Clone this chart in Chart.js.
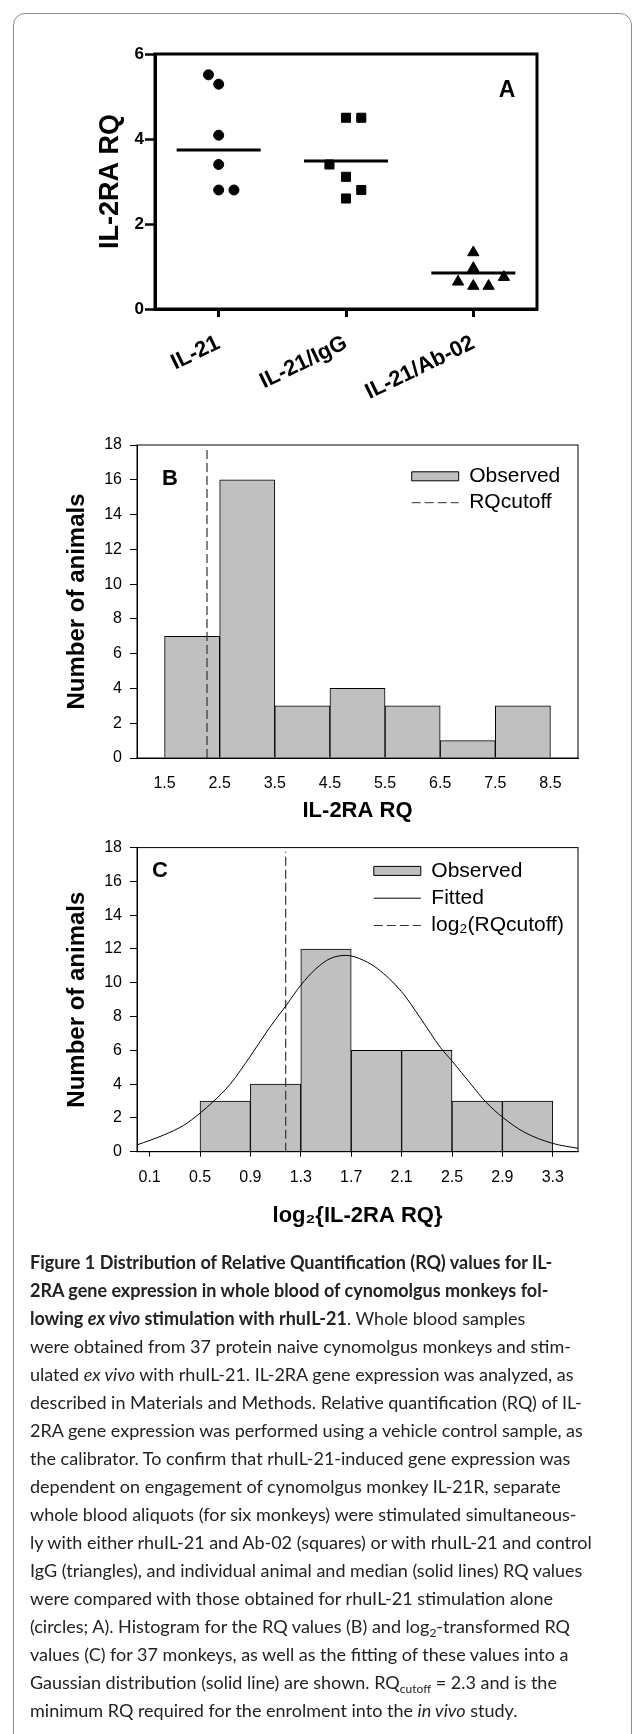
<!DOCTYPE html>
<html>
<head>
<meta charset="utf-8">
<script src="https://cdn.jsdelivr.net/npm/chart.js@4.4.1/dist/chart.umd.min.js"></script>
<style>
html,body{margin:0;padding:0;background:#fff;}
body{width:635px;height:1734px;position:relative;overflow:hidden;font-family:'Liberation Sans',Arial,sans-serif;}
#frame{position:absolute;left:13px;top:13px;width:619px;height:1800px;border:1px solid #8c8c8c;border-radius:12px;box-sizing:border-box;}
canvas{position:absolute;left:0;}
.plabel{position:absolute;font-weight:bold;font-size:22px;font-family:'Liberation Sans',Arial,sans-serif;transform:translate(-50%,-50%);line-height:1;color:#000;}
#caption{position:absolute;left:30px;top:1248px;font-family:Lato,'Open Sans',sans-serif;font-size:18px;color:#222;}
#caption div{height:28px;line-height:28px;white-space:nowrap;}
#caption sub{font-size:12px;vertical-align:-4px;line-height:0;}
</style>
</head>
<body>
<div id="frame"></div>
<canvas id="cA" width="635" height="420" style="top:0;width:635px;height:420px"></canvas>
<canvas id="cB" width="635" height="410" style="top:420px;width:635px;height:410px"></canvas>
<canvas id="cC" width="635" height="420" style="top:830px;width:635px;height:420px"></canvas>
<div class="plabel" style="left:507px;top:89px;font-size:23px">A</div>
<div class="plabel" style="left:170px;top:478px">B</div>
<div class="plabel" style="left:160px;top:870px">C</div>
<div id="caption">
<div><b>Figure 1 Distribution of Relative Quantification (RQ) values for IL-</b></div>
<div><b>2RA gene expression in whole blood of cynomolgus monkeys fol-</b></div>
<div><b>lowing <i>ex vivo</i> stimulation with rhuIL-21</b>. Whole blood samples</div>
<div>were obtained from 37 protein naive cynomolgus monkeys and stim-</div>
<div>ulated <i>ex vivo</i> with rhuIL-21. IL-2RA gene expression was analyzed, as</div>
<div>described in Materials and Methods. Relative quantification (RQ) of IL-</div>
<div>2RA gene expression was performed using a vehicle control sample, as</div>
<div>the calibrator. To confirm that rhuIL-21-induced gene expression was</div>
<div>dependent on engagement of cynomolgus monkey IL-21R, separate</div>
<div>whole blood aliquots (for six monkeys) were stimulated simultaneous-</div>
<div>ly with either rhuIL-21 and Ab-02 (squares) or with rhuIL-21 and control</div>
<div>IgG (triangles), and individual animal and median (solid lines) RQ values</div>
<div>were compared with those obtained for rhuIL-21 stimulation alone</div>
<div>(circles; A). Histogram for the RQ values (B) and log<sub>2</sub>-transformed RQ</div>
<div>values (C) for 37 monkeys, as well as the fitting of these values into a</div>
<div>Gaussian distribution (solid line) are shown. RQ<sub>cutoff</sub> = 2.3 and is the</div>
<div>minimum RQ required for the enrolment into the <i>in vivo</i> study.</div>
</div>
<script>
// ---------- Panel A data ----------
const catsA = ['IL-21', 'IL-21/IgG', 'IL-21/Ab-02'];
const il21X = [0.92, 1.0, 1.0, 1.0, 1.0, 1.12];
const il21Y = [5.51, 5.29, 4.09, 3.40, 2.80, 2.80];
const iggX = [2.0, 2.12, 1.87, 2.0, 2.12, 2.0];
const iggY = [4.50, 4.50, 3.40, 3.11, 2.80, 2.60];
const ab02X = [3.0, 3.0, 2.88, 3.0, 3.12, 3.24];
const ab02Y = [1.33, 0.96, 0.64, 0.54, 0.54, 0.75];
const mediansA = [3.74, 3.48, 0.85];
const yTicksA = [0, 2, 4, 6];

// ---------- Panel B data ----------
const binCentersB = [2, 3, 4, 5, 6, 7, 8];
const countsB = [7, 16, 3, 4, 3, 1, 3];
const xTicksB = [1.5, 2.5, 3.5, 4.5, 5.5, 6.5, 7.5, 8.5];
const cutoffB = 2.27;

// ---------- Panel C data ----------
const binCentersC = [0.7, 1.1, 1.5, 1.9, 2.3, 2.7, 3.1];
const countsC = [3, 4, 12, 6, 6, 3, 3];
const xTicksC = [0.1, 0.5, 0.9, 1.3, 1.7, 2.1, 2.5, 2.9, 3.3];
const cutoffC = 1.18;
const fitX = [0, 0.21, 0.37, 0.5, 0.6, 0.74, 0.9, 1.05, 1.19, 1.3, 1.42, 1.53, 1.66, 1.8, 1.91, 2.1, 2.25, 2.41, 2.5, 2.65, 2.77, 2.9, 3.07, 3.3, 3.5];
const fitY = [0.4, 0.98, 1.56, 2.28, 2.93, 4.0, 5.66, 7.32, 8.72, 9.86, 10.83, 11.42, 11.62, 11.32, 10.83, 9.47, 7.9, 6.15, 5.37, 4.0, 2.93, 2.05, 1.17, 0.49, 0.2];

const yTicksHist = [0, 2, 4, 6, 8, 10, 12, 14, 16, 18];
const cutoffTop = 17.75;

Chart.defaults.font.family = "'Liberation Sans', Arial, sans-serif";
Chart.defaults.color = '#000';

const zip = (xs, ys) => xs.map((x, i) => ({x: x, y: ys[i]}));

const framePlugin = {
  id: 'frame',
  afterDatasetsDraw(chart, args, opts) {
    const {ctx, chartArea: {left, top, right, bottom}} = chart;
    ctx.save();
    ctx.strokeStyle = opts.color || '#000';
    ctx.lineWidth = opts.width || 1;
    ctx.strokeRect(left, top, right - left, bottom - top);
    ctx.restore();
  }
};

const legendPosPlugin = {
  id: 'legendPos',
  afterLayout(chart, args, opts) {
    const lg = chart.legend;
    if (!lg || opts.x === undefined) return;
    const w = 280, h = 130;
    lg.left = opts.x; lg.top = opts.y;
    lg.width = w; lg.height = h;
    lg.right = opts.x + w; lg.bottom = opts.y + h;
  }
};

// ---------- Chart A ----------
const medianSets = mediansA.map((m, i) => ({
  type: 'line',
  data: [{x: i + 1 - 0.33, y: m}, {x: i + 1 + 0.33, y: m}],
  borderColor: '#000', borderWidth: 3, pointRadius: 0, fill: false
}));

new Chart(document.getElementById('cA'), {
  type: 'scatter',
  data: {
    datasets: [
      {data: zip(il21X, il21Y), pointStyle: 'circle', pointRadius: 5, backgroundColor: '#000', borderColor: '#000'},
      {data: zip(iggX, iggY), pointStyle: 'rect', pointRadius: 6.4, backgroundColor: '#000', borderColor: '#000'},
      {data: zip(ab02X, ab02Y), pointStyle: 'triangle', pointRadius: 6.5, backgroundColor: '#000', borderColor: '#000'},
      ...medianSets
    ]
  },
  options: {
    responsive: false, animation: false,
    layout: {padding: {top: 54, right: 98, left: 0, bottom: 0}},
    plugins: {legend: {display: false}, tooltip: {enabled: false}, frame: {width: 3, color: '#000'}},
    scales: {
      x: {
        type: 'linear', min: 0.5, max: 3.5,
        afterBuildTicks: s => { s.ticks = [1, 2, 3].map(v => ({value: v})); },
        afterFit: s => { s.height = 111; },
        ticks: {callback: v => catsA[v - 1], minRotation: 26, maxRotation: 26, autoSkip: false,
                font: {size: 22, weight: 'bold'}, color: '#000', padding: 13},
        grid: {display: true, drawOnChartArea: false, tickLength: 8, tickWidth: 3, tickColor: '#000'},
        border: {display: true, width: 3, color: '#000'}
      },
      y: {
        min: 0, max: 6,
        afterBuildTicks: s => { s.ticks = yTicksA.map(v => ({value: v})); },
        afterFit: s => { s.width = 155; },
        ticks: {font: {size: 17, weight: 'bold'}, color: '#000', padding: 1},
        grid: {display: true, drawOnChartArea: false, tickLength: 10, tickWidth: 2.5, tickColor: '#000'},
        border: {display: true, width: 3, color: '#000'},
        title: {display: true, text: 'IL-2RA RQ', font: {size: 27, weight: 'bold'}, color: '#000', padding: {top: 94.6, bottom: 0}}
      }
    }
  },
  plugins: [framePlugin]
});

// ---------- Histogram helpers ----------
function legendLabels(order) {
  return {
    usePointStyle: true, pointStyleWidth: 47, boxHeight: 9, font: {size: 21}, color: '#000',
    generateLabels: chart => {
      const items = Chart.defaults.plugins.legend.labels.generateLabels(chart);
      items.forEach(it => {
        const ds = chart.data.datasets[it.datasetIndex];
        it.pointStyle = ds.type === 'bar' ? 'rect' : 'line';
        it.lineDash = ds.borderDash || [];
        it.strokeStyle = ds.borderColor;
        it.fillStyle = ds.backgroundColor || 'rgba(0,0,0,0)';
        it.lineWidth = 1;
      });
      return items;
    },
    sort: (a, b) => order.indexOf(a.text) - order.indexOf(b.text)
  };
}

function histScales(xMin, xMax, xTicks, xDigits, xTitle, xTitlePad, xTickLen, xTickPad, xHeight) {
  return {
    x: {
      type: 'linear', min: xMin, max: xMax, offset: false,
      afterBuildTicks: s => { s.ticks = xTicks.map(v => ({value: v})); },
      afterFit: s => { s.height = xHeight; },
      ticks: {callback: v => Number(v).toFixed(xDigits), font: {size: 16}, color: '#000', padding: xTickPad, autoSkip: false, maxRotation: 0},
      grid: {display: true, offset: false, drawOnChartArea: false, drawTicks: xTickLen > 0, tickLength: xTickLen, tickColor: '#000', tickWidth: 1},
      border: {display: true, width: 1, color: '#000'},
      title: {display: true, text: xTitle, font: {size: 22, weight: 'bold'}, color: '#000', padding: {top: 0, bottom: xTitlePad}}
    },
    y: {
      min: 0, max: 18,
      afterBuildTicks: s => { s.ticks = yTicksHist.map(v => ({value: v})); },
      afterFit: s => { s.width = 137; },
      ticks: {font: {size: 16}, color: '#000', padding: 8},
      grid: {display: true, drawOnChartArea: false, tickLength: 7, tickColor: '#000', tickWidth: 1},
      border: {display: true, width: 1, color: '#000'},
      title: {display: true, text: 'Number of animals', font: {size: 24, weight: 'bold'}, color: '#000', padding: {top: 62.6, bottom: 0}}
    }
  };
}

// ---------- Chart B ----------
new Chart(document.getElementById('cB'), {
  type: 'bar',
  data: {
    datasets: [
      {type: 'line', label: 'RQcutoff', data: [{x: cutoffB, y: 0}, {x: cutoffB, y: cutoffTop}],
       borderColor: '#333', borderWidth: 1.2, borderDash: [9, 4], pointRadius: 0, order: 0},
      {type: 'bar', label: 'Observed', data: zip(binCentersB, countsB),
       backgroundColor: '#c0c0c0', borderColor: '#000', borderWidth: 1,
       barPercentage: 1, categoryPercentage: 1, order: 2}
    ]
  },
  options: {
    responsive: false, animation: false,
    layout: {padding: {top: 25, right: 57, left: 0, bottom: 0}},
    plugins: {
      tooltip: {enabled: false},
      legend: {display: true, position: 'chartArea', align: 'start',
               labels: Object.assign(legendLabels(['Observed', 'RQcutoff']), {padding: 5.4})},
      legendPos: {x: 406.3, y: 40.4},
      frame: {width: 1, color: '#000'}
    },
    scales: histScales(1, 9, xTicksB, 1, 'IL-2RA RQ', 5.8, 0, 16.4, 72)
  },
  plugins: [framePlugin, legendPosPlugin]
});

// ---------- Chart C ----------
new Chart(document.getElementById('cC'), {
  type: 'bar',
  data: {
    datasets: [
      {type: 'line', label: 'Fitted', data: zip(fitX, fitY), borderColor: '#000', borderWidth: 1,
       pointRadius: 0, cubicInterpolationMode: 'monotone', fill: false, order: 0},
      {type: 'line', label: 'log\u2082(RQcutoff)', data: [{x: cutoffC, y: 0}, {x: cutoffC, y: cutoffTop}],
       borderColor: '#333', borderWidth: 1.2, borderDash: [9, 4], pointRadius: 0, order: 1},
      {type: 'bar', label: 'Observed', data: zip(binCentersC, countsC),
       backgroundColor: '#c0c0c0', borderColor: '#000', borderWidth: 1,
       barPercentage: 1, categoryPercentage: 1, order: 2}
    ]
  },
  options: {
    responsive: false, animation: false,
    layout: {padding: {top: 14.3, right: 57, left: 0, bottom: 0}},
    plugins: {
      tooltip: {enabled: false},
      legend: {display: true, position: 'chartArea', align: 'start',
               labels: Object.assign(legendLabels(['Observed', 'Fitted', 'log\u2082(RQcutoff)']), {padding: 6.3})},
      legendPos: {x: 367.5, y: 24.1},
      frame: {width: 1, color: '#000'}
    },
    scales: histScales(0, 3.5, xTicksC, 1, 'log\u2082{IL-2RA RQ}', 20.8, 5, 11.2, 98.3)
  },
  plugins: [framePlugin, legendPosPlugin]
});
</script>
</body>
</html>
